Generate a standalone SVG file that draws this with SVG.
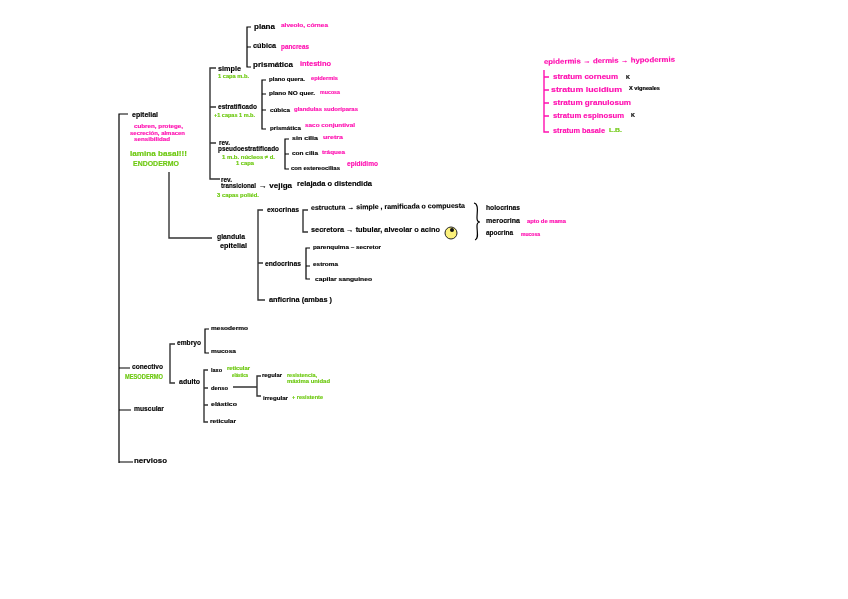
<svg xmlns="http://www.w3.org/2000/svg" width="848" height="599" viewBox="0 0 848 599">
<style>
text{font-family:"Liberation Sans",Arial,sans-serif;font-weight:700;font-size:7px;stroke-width:.15px}
.k{fill:#000;stroke:#000}
.p{fill:#ff10b0;stroke:#ff10b0}
.g{fill:#6cc80f;stroke:#6cc80f}
.s{font-size:5.5px}
.t{font-size:4.5px}
.b{font-size:8px}
#all{filter:blur(.3px)}
#connectors path{fill:none;stroke:#333;stroke-width:1.4}
#connectors .m{stroke:#000;stroke-width:1.2}
#connectors .pk{stroke:#ff10b0}
</style>
<rect width="848" height="599" fill="#fff"/>
<g id="all">
<g id="connectors">
<path class="m" d="M128 114H119V463M119 368H130M119 410H131M119 462H133"/>
<path d="M216 68H210V179H220M210 107H216M210 143H216"/>
<path class="m" d="M251 27H247V67H251M247 47H251"/>
<path class="m" d="M266 80H262V129H266M262 94H266M262 110H266"/>
<path class="m" d="M289 139H285V169H289M285 154H289"/>
<path d="M169 172V238H212"/>
<path d="M263 210H258V300H265M258 263H263"/>
<path d="M308 210H303V232H308"/>
<path class="m" d="M310 248H306V279H310M306 266H310"/>
<path d="M175 344H170V383H175"/>
<path class="m" d="M209 329H205V353H209"/>
<path d="M208 370H204V422H208M204 388H208M204 405H208"/>
<path d="M233 387H257M261 376H257V396H261"/>
<path class="m" d="M474 203C479 204 477 212 477 218C477 221 478 222 480 222C478 222 477 223 477 226C477 232 479 239 475 240"/>
<path class="pk" d="M544 70V132H549M544 77H549M544 90H549M544 103H549M544 116H549"/>
</g>
<g id="epitelial"><text lengthAdjust="spacingAndGlyphs" x="132" y="117" class="k" textLength="26">epitelial</text>
<text lengthAdjust="spacingAndGlyphs" x="134" y="128" class="p s" textLength="49">cubren, protege,</text>
<text lengthAdjust="spacingAndGlyphs" x="130" y="135" class="p s" textLength="55">secreción, almacen</text>
<text lengthAdjust="spacingAndGlyphs" x="134" y="141" class="p s" textLength="36">sensibilidad</text>
<text lengthAdjust="spacingAndGlyphs" x="130" y="156" class="g" textLength="57">lamina basal!!!</text>
<text lengthAdjust="spacingAndGlyphs" x="133" y="166" class="g b" textLength="46">ENDODERMO</text></g>
<g id="simple"><text lengthAdjust="spacingAndGlyphs" x="218" y="71" class="k" textLength="23">simple</text><text lengthAdjust="spacingAndGlyphs" x="218" y="78" class="g s" textLength="31">1 capa m.b.</text></g>
<g id="estratificado"><text lengthAdjust="spacingAndGlyphs" x="218" y="109" class="k" textLength="39">estratificado</text><text lengthAdjust="spacingAndGlyphs" x="214" y="117" class="g s" textLength="41">+1 capas 1 m.b.</text></g>
<g id="pseudo"><text lengthAdjust="spacingAndGlyphs" x="219" y="145" class="k" textLength="11">rev.</text><text lengthAdjust="spacingAndGlyphs" x="218" y="151" class="k" textLength="61">pseudoestratificado</text>
<text lengthAdjust="spacingAndGlyphs" x="222" y="159" class="g s" textLength="53">1 m.b. núcleos ≠ d.</text><text lengthAdjust="spacingAndGlyphs" x="236" y="165" class="g s" textLength="18">1 capa</text></g>
<g id="transicional"><text lengthAdjust="spacingAndGlyphs" x="221" y="182" class="k" textLength="11">rev.</text><text lengthAdjust="spacingAndGlyphs" x="221" y="188" class="k" textLength="35">transicional</text>
<text lengthAdjust="spacingAndGlyphs" x="259" y="188" class="k" textLength="33">→ vejiga</text><text lengthAdjust="spacingAndGlyphs" x="297" y="186" class="k" textLength="75">relajada o distendida</text>
<text lengthAdjust="spacingAndGlyphs" x="217" y="197" class="g s" textLength="42">3 capas poliéd.</text></g>
<g id="plana"><text lengthAdjust="spacingAndGlyphs" x="254" y="29" class="k" textLength="21">plana</text><text lengthAdjust="spacingAndGlyphs" x="281" y="27" class="p s" textLength="47">alveolo, córnea</text></g>
<g id="cubica"><text lengthAdjust="spacingAndGlyphs" x="253" y="48" class="k" textLength="23">cúbica</text><text lengthAdjust="spacingAndGlyphs" x="281" y="49" class="p" textLength="28">pancreas</text></g>
<g id="prismatica"><text lengthAdjust="spacingAndGlyphs" x="253" y="67" class="k" textLength="40">prismática</text><text lengthAdjust="spacingAndGlyphs" x="300" y="66" class="p" textLength="31">intestino</text></g>
<g id="plano-quer"><text lengthAdjust="spacingAndGlyphs" x="269" y="81" class="k s" textLength="36">plano quera.</text><text lengthAdjust="spacingAndGlyphs" x="311" y="80" class="p s" textLength="27">epidermis</text></g>
<g id="plano-no-quer"><text lengthAdjust="spacingAndGlyphs" x="269" y="95" class="k s" textLength="46">plano NO quer.</text><text lengthAdjust="spacingAndGlyphs" x="320" y="94" class="p s" textLength="20">mucosa</text></g>
<g id="cubica-e"><text lengthAdjust="spacingAndGlyphs" x="270" y="112" class="k s" textLength="20">cúbica</text><text lengthAdjust="spacingAndGlyphs" x="294" y="111" class="p s" textLength="64">glandulas sudoríparas</text></g>
<g id="prismatica-e"><text lengthAdjust="spacingAndGlyphs" x="270" y="130" class="k s" textLength="31">prismática</text><text lengthAdjust="spacingAndGlyphs" x="305" y="127" class="p s" textLength="50">saco conjuntival</text></g>
<g id="sin-cilia"><text lengthAdjust="spacingAndGlyphs" x="292" y="140" class="k s" textLength="26">sin cilia</text><text lengthAdjust="spacingAndGlyphs" x="323" y="139" class="p s" textLength="20">uretra</text></g>
<g id="con-cilia"><text lengthAdjust="spacingAndGlyphs" x="292" y="155" class="k s" textLength="26">con cilia</text><text lengthAdjust="spacingAndGlyphs" x="322" y="154" class="p s" textLength="23">tráquea</text></g>
<g id="estereocilias"><text lengthAdjust="spacingAndGlyphs" x="291" y="170" class="k s" textLength="49">con estereocilias</text><text lengthAdjust="spacingAndGlyphs" x="347" y="166" class="p" textLength="31">epidídimo</text></g>
<g id="glandula"><text lengthAdjust="spacingAndGlyphs" x="217" y="239" class="k" textLength="28">glandula</text><text lengthAdjust="spacingAndGlyphs" x="220" y="248" class="k" textLength="27">epitelial</text></g>
<g id="exocrinas"><text lengthAdjust="spacingAndGlyphs" x="267" y="212" class="k" textLength="32">exocrinas</text></g>
<g id="estructura"><text lengthAdjust="spacingAndGlyphs" x="311" y="210" class="k" transform="rotate(-0.8 311 210)" textLength="154">estructura → simple , ramificada  o  compuesta</text></g>
<g id="secretora"><text lengthAdjust="spacingAndGlyphs" x="311" y="232" class="k" textLength="129">secretora → tubular, alveolar  o  acino</text></g>
<g id="acino"><circle cx="451" cy="233" r="6" fill="#fbf07a" stroke="#222" stroke-width="1"/><circle cx="452" cy="230" r="2" fill="#111"/></g>
<g id="endocrinas"><text lengthAdjust="spacingAndGlyphs" x="265" y="266" class="k" textLength="36">endocrinas</text></g>
<g id="parenquima"><text lengthAdjust="spacingAndGlyphs" x="313" y="249" class="k s" textLength="68">parenquima – secretor</text></g>
<g id="estroma"><text lengthAdjust="spacingAndGlyphs" x="313" y="266" class="k s" textLength="25">estroma</text></g>
<g id="capilar"><text lengthAdjust="spacingAndGlyphs" x="315" y="281" class="k s" textLength="57">capilar sanguineo</text></g>
<g id="anficrina"><text lengthAdjust="spacingAndGlyphs" x="269" y="302" class="k" textLength="63">anficrina (ambas )</text></g>
<g id="holocrinas"><text lengthAdjust="spacingAndGlyphs" x="486" y="210" class="k" textLength="34">holocrinas</text></g>
<g id="merocrina"><text lengthAdjust="spacingAndGlyphs" x="486" y="223" class="k" textLength="34">merocrina</text><text lengthAdjust="spacingAndGlyphs" x="527" y="223" class="p t" textLength="39">apto de mama</text></g>
<g id="apocrina"><text lengthAdjust="spacingAndGlyphs" x="486" y="235" class="k" textLength="27">apocrina</text><text lengthAdjust="spacingAndGlyphs" x="521" y="236" class="p t" textLength="19">mucosa</text></g>
<g id="conectivo"><text lengthAdjust="spacingAndGlyphs" x="132" y="369" class="k" textLength="31">conectivo</text><text lengthAdjust="spacingAndGlyphs" x="125" y="379" class="g" textLength="38">MESODERMO</text></g>
<g id="muscular"><text lengthAdjust="spacingAndGlyphs" x="134" y="411" class="k" textLength="30">muscular</text></g>
<g id="nervioso"><text lengthAdjust="spacingAndGlyphs" x="134" y="463" class="k" textLength="33">nervioso</text></g>
<g id="embryo"><text lengthAdjust="spacingAndGlyphs" x="177" y="345" class="k" textLength="24">embryo</text></g>
<g id="adulto"><text lengthAdjust="spacingAndGlyphs" x="179" y="384" class="k" textLength="21">adulto</text></g>
<g id="mesodermo"><text lengthAdjust="spacingAndGlyphs" x="211" y="330" class="k s" textLength="37">mesodermo</text></g>
<g id="mucosa"><text lengthAdjust="spacingAndGlyphs" x="211" y="353" class="k s" textLength="25">mucosa</text></g>
<g id="laxo"><text lengthAdjust="spacingAndGlyphs" x="211" y="372" class="k s" textLength="11">laxo</text><text lengthAdjust="spacingAndGlyphs" x="227" y="370" class="g t" textLength="23">reticular</text><text lengthAdjust="spacingAndGlyphs" x="232" y="377" class="g t" textLength="16">elástica</text></g>
<g id="denso"><text lengthAdjust="spacingAndGlyphs" x="211" y="390" class="k s" textLength="17">denso</text></g>
<g id="elastico"><text lengthAdjust="spacingAndGlyphs" x="211" y="406" class="k s" textLength="26">elástico</text></g>
<g id="reticular"><text lengthAdjust="spacingAndGlyphs" x="210" y="423" class="k s" textLength="26">reticular</text></g>
<g id="regular"><text lengthAdjust="spacingAndGlyphs" x="262" y="377" class="k s" textLength="20">regular</text><text lengthAdjust="spacingAndGlyphs" x="287" y="377" class="g s" textLength="30">resistencia,</text><text lengthAdjust="spacingAndGlyphs" x="287" y="383" class="g s" textLength="43">máxima unidad</text></g>
<g id="irregular"><text lengthAdjust="spacingAndGlyphs" x="263" y="400" class="k s" textLength="25">irregular</text><text lengthAdjust="spacingAndGlyphs" x="292" y="399" class="g s" textLength="31">+ resistente</text></g>
<g id="capas-piel"><text lengthAdjust="spacingAndGlyphs" x="544" y="64" class="p" transform="rotate(-1 544 64)" textLength="131">epidermis → dermis → hypodermis</text></g>
<g id="corneum"><text lengthAdjust="spacingAndGlyphs" x="553" y="79" class="p" textLength="65">stratum  corneum</text><text lengthAdjust="spacingAndGlyphs" x="626" y="79" class="k s" textLength="4">K</text></g>
<g id="lucidum"><text lengthAdjust="spacingAndGlyphs" x="551" y="92" class="p" textLength="71">stratum   lucidium</text><text lengthAdjust="spacingAndGlyphs" x="629" y="90" class="k t" textLength="31">X vigneales</text></g>
<g id="granulosum"><text lengthAdjust="spacingAndGlyphs" x="553" y="105" class="p" textLength="78">stratum  granulosum</text></g>
<g id="espinosum"><text lengthAdjust="spacingAndGlyphs" x="553" y="118" class="p" textLength="71">stratum  espinosum</text><text lengthAdjust="spacingAndGlyphs" x="631" y="117" class="k s" textLength="4">K</text></g>
<g id="basale"><text lengthAdjust="spacingAndGlyphs" x="553" y="133" class="p" textLength="52">stratum  basale</text><text lengthAdjust="spacingAndGlyphs" x="609" y="132" class="g s" textLength="13">L.B.</text></g>
</g>
</svg>
